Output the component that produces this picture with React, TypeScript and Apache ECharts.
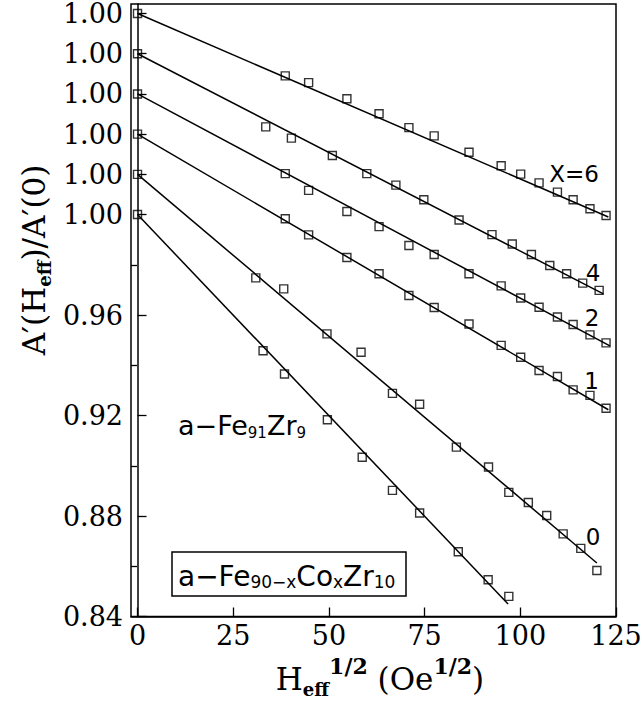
import React, { useEffect, useRef } from 'react';
import * as echarts from 'echarts';

// ---- axis ticks ----
const xTicks = [0, 25, 50, 75, 100, 125];
const yTickValues = [0.84, 0.88, 0.92, 0.96, 1.0, 1.016, 1.032, 1.048, 1.064, 1.08];
const yTickLabels = ['0.84', '0.88', '0.92', '0.96', '1.00', '1.00', '1.00', '1.00', '1.00', '1.00'];
const yMinorTicks = [0.86, 0.9, 0.94, 0.98];

// ---- curves (bottom to top), vertical offsets applied when plotting ----
const curveNames = ['a-Fe91Zr9', 'X=0', 'X=1', 'X=2', 'X=4', 'X=6'];
const curveOffsets = [0, 0.016, 0.032, 0.048, 0.064, 0.08];

const hFe91 = [0, 32.8, 38.4, 49.6, 58.7, 66.6, 73.7, 83.8, 91.6, 97.0];
const aFe91 = [1.0, 0.9458, 0.9365, 0.9183, 0.9034, 0.8902, 0.8812, 0.8658, 0.8546, 0.848];

const hX0 = [0, 30.9, 38.2, 49.5, 58.4, 66.6, 73.7, 83.3, 91.7, 97.0, 102.1, 106.9, 111.2, 115.8, 120.0];
const aX0 = [1.0, 0.9588, 0.9544, 0.9365, 0.9292, 0.9128, 0.9085, 0.8914, 0.8835, 0.8734, 0.8694, 0.8642, 0.8569, 0.8511, 0.8423];

const hX1 = [0, 38.6, 44.7, 54.7, 63.1, 70.9, 77.5, 86.6, 95.0, 100.1, 104.9, 109.7, 113.8, 118.2, 122.4];
const aX1 = [1.0, 0.9663, 0.9599, 0.9509, 0.9444, 0.9358, 0.931, 0.9244, 0.9159, 0.9112, 0.9059, 0.9035, 0.8982, 0.896, 0.8909];

const hX2 = [0, 38.6, 44.7, 54.7, 63.1, 70.9, 77.5, 86.6, 95.0, 100.1, 104.9, 109.7, 113.8, 118.2, 122.4];
const aX2 = [1.0, 0.9683, 0.9616, 0.9532, 0.9472, 0.9397, 0.9361, 0.9284, 0.9236, 0.9188, 0.9151, 0.9112, 0.9082, 0.9041, 0.9009];

const hX4 = [0, 33.5, 40.2, 50.9, 59.9, 67.5, 74.8, 84.0, 92.6, 97.9, 102.9, 107.7, 112.1, 116.3, 120.6];
const aX4 = [1.0, 0.9709, 0.9664, 0.9595, 0.9523, 0.9477, 0.9419, 0.9338, 0.928, 0.9243, 0.9201, 0.9157, 0.9124, 0.9087, 0.9058];

const hX6 = [0, 38.6, 44.7, 54.7, 63.1, 70.9, 77.5, 86.6, 95.0, 100.1, 104.9, 109.7, 113.8, 118.2, 122.4];
const aX6 = [1.0, 0.9752, 0.9725, 0.9661, 0.9601, 0.9546, 0.9513, 0.9448, 0.9394, 0.9361, 0.9326, 0.9289, 0.9259, 0.9223, 0.9196];

// linear fits: start (0, 1.00) and end point of each fitted line
const fitStartX = [0, 0, 0, 0, 0, 0];
const fitStartY = [1.0, 1.0, 1.0, 1.0, 1.0, 1.0];
const fitEndX = [96.8, 120.0, 123.0, 123.4, 121.7, 123.0];
const fitEndY = [0.845, 0.8453, 0.8903, 0.8997, 0.9044, 0.919];

const curveH = [hFe91, hX0, hX1, hX2, hX4, hX6];
const curveA = [aFe91, aX0, aX1, aX2, aX4, aX6];

export default function App() {
  const ref = useRef<HTMLDivElement>(null);

  useEffect(() => {
    if (!ref.current) return;
    const chart = echarts.init(ref.current, null, { renderer: 'svg' });

    const serif = 'DejaVu Serif';
    const sans = 'DejaVu Sans';

    const series: any[] = [];
    curveNames.forEach((name, i) => {
      const off = curveOffsets[i];
      series.push({
        name: name + ' fit',
        type: 'line',
        xAxisIndex: 0,
        yAxisIndex: 0,
        data: [
          [fitStartX[i], fitStartY[i] + off],
          [fitEndX[i], fitEndY[i] + off],
        ],
        showSymbol: false,
        symbol: 'none',
        lineStyle: { color: '#000', width: 1.5 },
        silent: true,
        z: 2,
      });
      series.push({
        name,
        type: 'scatter',
        xAxisIndex: 0,
        yAxisIndex: 0,
        data: curveH[i].map((h, k) => [h, curveA[i][k] + off]),
        symbol: 'rect',
        symbolSize: 8,
        itemStyle: { color: 'rgba(0,0,0,0)', borderColor: '#000', borderWidth: 1.4 },
        silent: true,
        z: 3,
      });
    });

    const boxRich = {
      m: { fontFamily: sans, fontSize: 28, color: '#000' },
      s: { fontFamily: sans, fontSize: 17, color: '#000', padding: [12, 0, 0, 0] },
    };
    const feRich = {
      m: { fontFamily: sans, fontSize: 27, color: '#000' },
      s: { fontFamily: sans, fontSize: 15, color: '#000', padding: [16, 0, 0, 0] },
    };

    const numLabel = (text: string, x: number, y: number) => ({
      type: 'text',
      x,
      y,
      silent: true,
      style: {
        text,
        fontFamily: sans,
        fontSize: 23,
        fill: '#000',
        align: 'center',
        verticalAlign: 'middle',
        textAlign: 'center',
        textVerticalAlign: 'middle',
      },
    });

    const option: any = {
      animation: false,
      backgroundColor: '#fff',
      grid: {
        left: 131,
        right: 26,
        top: 4,
        bottom: 85.5,
        show: true,
        borderColor: '#000',
        borderWidth: 1.5,
        backgroundColor: 'transparent',
        outerBoundsMode: 'none',
      },
      xAxis: [
        {
          type: 'value',
          min: -1.7,
          max: 125,
          axisLine: { show: true, lineStyle: { color: '#000', width: 1.5 } },
          axisTick: {
            show: true,
            inside: true,
            length: 9,
            customValues: xTicks,
            lineStyle: { color: '#000', width: 1.3 },
          },
          axisLabel: {
            show: true,
            customValues: xTicks,
            formatter: (v: number) => String(v),
            fontFamily: serif,
            fontSize: 27,
            color: '#000',
            margin: 5,
          },
          splitLine: { show: false },
        },
      ],
      yAxis: [
        {
          type: 'value',
          min: 0.84,
          max: 1.0838,
          position: 'left',
          axisLine: { show: true, lineStyle: { color: '#000', width: 1.5 } },
          axisTick: {
            show: true,
            inside: true,
            length: 9,
            customValues: yTickValues,
            lineStyle: { color: '#000', width: 1.3 },
          },
          axisLabel: {
            show: true,
            customValues: yTickValues,
            formatter: (v: number) => {
              const i = yTickValues.findIndex((t) => Math.abs(t - v) < 1e-6);
              return i >= 0 ? yTickLabels[i] : '';
            },
            fontFamily: serif,
            fontSize: 27,
            lineHeight: 22,
            color: '#000',
            margin: 8,
          },
          splitLine: { show: false },
        },
        {
          type: 'value',
          min: 0.84,
          max: 1.0838,
          position: 'left',
          axisLine: { show: false },
          axisTick: {
            show: true,
            inside: true,
            length: 6,
            customValues: yMinorTicks,
            lineStyle: { color: '#000', width: 1.3 },
          },
          axisLabel: { show: false },
          splitLine: { show: false },
        },
      ],
      series,
      graphic: [
        // y-axis title
        {
          type: 'text',
          x: 34,
          y: 260,
          rotation: Math.PI / 2,
          silent: true,
          style: {
            text: '{m|A′(H}{s|eff}{m|)/A′(0)}',
            rich: {
              m: { fontFamily: serif, fontSize: 31, color: '#000' },
              s: { fontFamily: serif, fontSize: 18, fontWeight: 'bold', color: '#000', padding: [20, 0, 0, 0] },
            },
            align: 'center',
            verticalAlign: 'middle',
            textAlign: 'center',
            textVerticalAlign: 'middle',
          },
        },
        // x-axis title
        {
          type: 'text',
          x: 380,
          y: 679,
          silent: true,
          style: {
            text: '{m|H}{s|eff}{p|1/2}{m| (Oe}{p|1/2}{m|)}',
            rich: {
              m: { fontFamily: serif, fontSize: 31, color: '#000' },
              s: { fontFamily: serif, fontSize: 18, fontWeight: 'bold', color: '#000', padding: [20, 0, 0, 0] },
              p: { fontFamily: serif, fontSize: 22, fontWeight: 'bold', color: '#000', padding: [0, 0, 26, 0] },
            },
            align: 'center',
            verticalAlign: 'middle',
            textAlign: 'center',
            textVerticalAlign: 'middle',
          },
        },
        numLabel('X=6', 574, 174),
        numLabel('4', 593, 273),
        numLabel('2', 592, 318),
        numLabel('1', 591.5, 381),
        numLabel('0', 593, 537),
        {
          type: 'text',
          x: 178,
          y: 425,
          silent: true,
          style: {
            text: '{m|a−Fe}{s|91}{m|Zr}{s|9}',
            rich: feRich,
            align: 'left',
            verticalAlign: 'middle',
            textAlign: 'left',
            textVerticalAlign: 'middle',
          },
        },
        {
          type: 'rect',
          silent: true,
          shape: { x: 172, y: 552, width: 234, height: 44 },
          style: { fill: 'none', stroke: '#000', lineWidth: 1.5 },
        },
        {
          type: 'text',
          x: 178,
          y: 576,
          silent: true,
          style: {
            text: '{m|a−Fe}{s|90−x}{m|Co}{s|x}{m|Zr}{s|10}',
            rich: boxRich,
            align: 'left',
            verticalAlign: 'middle',
            textAlign: 'left',
            textVerticalAlign: 'middle',
          },
        },
      ],
    };

    chart.setOption(option);
    return () => chart.dispose();
  }, []);

  return (
    <div
      ref={ref}
      style={{ position: 'absolute', left: 0, top: 0, width: 642, height: 702, background: '#fff' }}
    />
  );
}
